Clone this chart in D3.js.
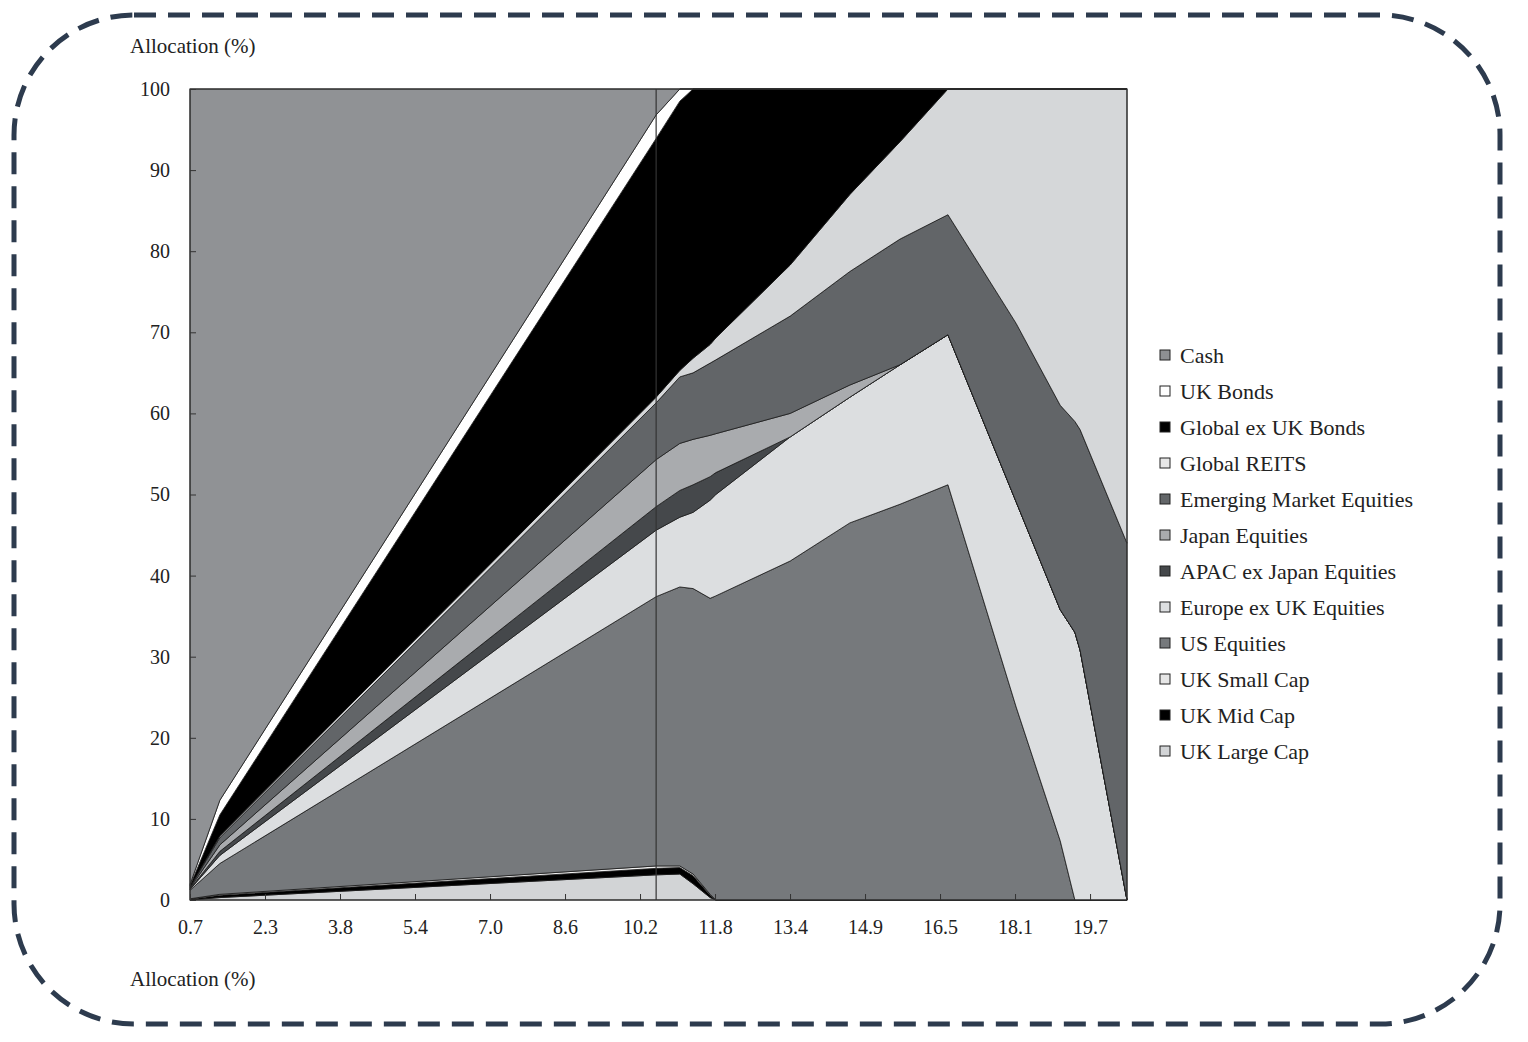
<!DOCTYPE html>
<html>
<head>
<meta charset="utf-8">
<script src="https://cdn.jsdelivr.net/npm/d3@7"></script>
<style>
  body { margin: 0; background: #fff; }
  text { font-family: "Liberation Serif", "DejaVu Serif", serif; fill: #222; }
</style>
</head>
<body>
<svg width="1528" height="1042"></svg>
<script>
const width = 1528
const height = 1042

// x positions (allocation %) where the boundaries change
const xs = [0.7, 1.33, 10.54, 11.04, 11.32, 11.68, 11.8, 13.37, 14.63, 15.69, 16.7, 18.14, 19.07, 19.38, 19.49, 20.48]
const xTickLabels = ["0.7", "2.3", "3.8", "5.4", "7.0", "8.6", "10.2", "11.8", "13.4", "14.9", "16.5", "18.1", "19.7"]
const yTicks = [0, 10, 20, 30, 40, 50, 60, 70, 80, 90, 100]

// cumulative top of each band (bottom to top)
const names = ["UK Large Cap", "UK Mid Cap", "UK Small Cap", "US Equities", "Europe ex UK Equities",
  "APAC ex Japan Equities", "Japan Equities", "Emerging Market Equities", "Global REITS",
  "Global ex UK Bonds", "UK Bonds", "Cash"]
const largeCap = [0, 0.3, 3.1, 3.2, 2.0, 0.3, 0, 0, 0, 0, 0, 0, 0, 0, 0, 0]
const midCap   = [0.1, 0.6, 3.9, 4.0, 3.0, 0.6, 0, 0, 0, 0, 0, 0, 0, 0, 0, 0]
const smallCap = [0.15, 0.7, 4.2, 4.2, 3.2, 0.7, 0, 0, 0, 0, 0, 0, 0, 0, 0, 0]
const usEq     = [1.2, 4.5, 37.4, 38.6, 38.4, 37.2, 37.5, 41.8, 46.5, 48.8, 51.2, 23.8, 7.3, 0, 0, 0]
const europe   = [1.3, 5.5, 45.6, 47.2, 47.8, 49.3, 50, 57.1, 62, 66, 69.7, 49.1, 35.8, 33, 30.8, 0]
const apac     = [1.35, 6, 48.5, 50.5, 51.2, 52.2, 52.7, 57.1, 62, 66, 69.7, 49.1, 35.8, 33, 30.8, 0]
const japan    = [1.45, 6.8, 54.3, 56.3, 56.8, 57.3, 57.5, 60, 63.5, 66, 69.7, 49.1, 35.8, 33, 30.8, 0]
const emerging = [1.55, 7.7, 61.3, 64.5, 65, 66.2, 66.6, 72, 77.5, 81.5, 84.5, 71.1, 61, 59, 58, 44]
const reits    = [1.6, 7.9, 62, 65.3, 66.8, 68.5, 69.3, 78.3, 87, 93.5, 100, 100, 100, 100, 100, 100]
const globBonds= [1.75, 10.5, 93.9, 98.5, 100, 100, 100, 100, 100, 100, 100, 100, 100, 100, 100, 100]
const ukBonds  = [1.9, 12.3, 96.8, 100, 100, 100, 100, 100, 100, 100, 100, 100, 100, 100, 100, 100]
const cash     = xs.map(() => 100)
const tops = [largeCap, midCap, smallCap, usEq, europe, apac, japan, emerging, reits, globBonds, ukBonds, cash]

const colors = ["#d2d4d6", "#000000", "#f2f2f2", "#76797c", "#dcdee0", "#45484b",
  "#a9abae", "#626568", "#d5d7d9", "#000000", "#ffffff", "#909295"]
const legendColors = ["#8e9093", "#ffffff", "#000000", "#e6e6e6", "#636669", "#a9abae",
  "#45484b", "#dcdee0", "#76797c", "#e6e6e6", "#000000", "#d2d4d6"]

// turn cumulative tops into band values for d3.stack
const rows = xs.map((x, i) => {
  const r = { x }
  names.forEach((n, k) => { r[n] = Math.max(0, tops[k][i] - (k ? tops[k - 1][i] : 0)) })
  return r
})
const series = d3.stack().keys(names)(rows)

const svg = d3.select("svg")

// dashed frame
svg.append("rect")
  .attr("x", 14).attr("y", 15).attr("width", 1486).attr("height", 1009)
  .attr("rx", 120).attr("ry", 120)
  .attr("fill", "none").attr("stroke", "#2d3b4e")
  .attr("stroke-width", 5).attr("stroke-dasharray", "22,12")

const plotLeft = 190, plotRight = 1127, plotTop = 89, plotBottom = 900
const x = d3.scaleLinear().domain([0.7, 20.48]).range([plotLeft, plotRight])
const y = d3.scaleLinear().domain([0, 100]).range([plotBottom, plotTop])

const area = d3.area()
  .x(d => x(d.data.x))
  .y0(d => y(d[0]))
  .y1(d => y(d[1]))

svg.append("g").selectAll("path")
  .data(series).enter()
  .append("path")
  .attr("d", area)
  .attr("fill", (d, i) => colors[i])
  .attr("stroke", "#1a1a1a")
  .attr("stroke-width", 0.8)

// vertical marker line
svg.append("line")
  .attr("x1", x(10.54)).attr("x2", x(10.54))
  .attr("y1", plotTop).attr("y2", plotBottom)
  .attr("stroke", "#333").attr("stroke-width", 1.2)

svg.append("rect")
  .attr("x", plotLeft).attr("y", plotTop).attr("width", plotRight - plotLeft).attr("height", plotBottom - plotTop)
  .attr("fill", "none").attr("stroke", "#333").attr("stroke-width", 1.2)

// x ticks: labels sit at equal spacing
const tickStep = (19.7 - 0.7) / 12
const xAxis = svg.append("g")
  .attr("transform", `translate(0,${plotBottom})`)
  .call(d3.axisBottom(x)
    .tickValues(xTickLabels.map((t, i) => 0.7 + i * tickStep))
    .tickFormat((d, i) => xTickLabels[i])
    .tickSizeInner(-6).tickSizeOuter(0).tickPadding(20))
xAxis.select(".domain").remove()
xAxis.selectAll("line").attr("stroke", "#333")
xAxis.selectAll("text").attr("font-size", 20).attr("font-family", "Liberation Serif").attr("fill", "#222")

const yAxis = svg.append("g")
  .attr("transform", `translate(${plotLeft},0)`)
  .call(d3.axisLeft(y).tickValues(yTicks)
    .tickSizeInner(-6).tickSizeOuter(0).tickPadding(20))
yAxis.select(".domain").remove()
yAxis.selectAll("line").attr("stroke", "#333")
yAxis.selectAll("text").attr("font-size", 20).attr("font-family", "Liberation Serif").attr("fill", "#222")

svg.append("text").attr("x", 130).attr("y", 53).attr("font-size", 21).text("Allocation (%)")
svg.append("text").attr("x", 130).attr("y", 986).attr("font-size", 21).text("Allocation (%)")

// legend, top to bottom: Cash ... UK Large Cap
const legendNames = names.slice().reverse()
const legend = svg.append("g").selectAll("g")
  .data(legendNames).enter()
  .append("g")
  .attr("transform", (d, i) => `translate(1160,${355 + i * 36})`)
legend.append("rect")
  .attr("x", 0).attr("y", -5).attr("width", 10).attr("height", 10)
  .attr("fill", (d, i) => legendColors[i])
  .attr("stroke", "#222").attr("stroke-width", 1)
legend.append("text")
  .attr("x", 20).attr("y", 8)
  .attr("font-size", 22)
  .text(d => d)
</script>
</body>
</html>
